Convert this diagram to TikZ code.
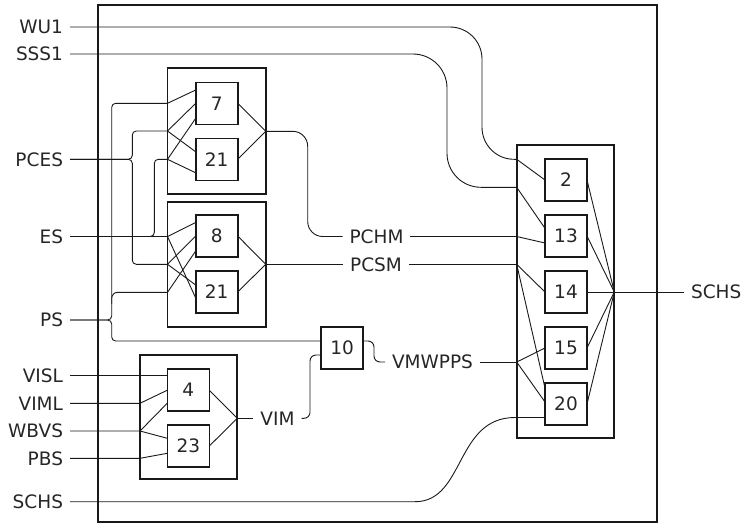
\documentclass[tikz,border=0pt]{standalone}
\usepackage{fontspec}
\setmainfont{DejaVu Sans}
\begin{document}
\begin{tikzpicture}[x=1pt,y=-1pt,
  lbl/.style={font=\fontsize{18.5}{22}\selectfont, text=black!85, inner xsep=7pt, inner ysep=2pt, outer sep=0pt},
  blk/.style={draw, line width=1.8pt, black!90},
  sbox/.style={draw=black!90, line width=1.6pt, minimum width=42pt, minimum height=42pt, inner sep=0pt, outer sep=0pt, text=black!85, font=\fontsize{18.5}{22}\selectfont},
  wire/.style={line width=0.9pt, black!90}
]
\useasboundingbox (0,0) rectangle (745,523);

% outer frame and blocks
\draw[blk] (97.7,5.3) rectangle (656.7,521.6);
\draw[blk] (167.5,68.3) rectangle (265.7,194);
\draw[blk] (167.5,201.7) rectangle (265.7,327.3);
\draw[blk] (516.7,145) rectangle (614.3,437.7);
\draw[blk] (140,355) rectangle (237.3,479.3);

% small boxes
\node[sbox] (b7)   at (216.7,103.3) {7};
\node[sbox] (b21a) at (216.7,159.3) {21};
\node[sbox] (b8)   at (216.7,236)   {8};
\node[sbox] (b21b) at (216.7,292)   {21};
\node[sbox] (b2)   at (566,180) {2};
\node[sbox] (b13)  at (566,236) {13};
\node[sbox] (b14)  at (566,292) {14};
\node[sbox] (b15)  at (566,348) {15};
\node[sbox] (b20)  at (566,404) {20};
\node[sbox] (b4)   at (188.3,390.2) {4};
\node[sbox] (b23)  at (188.3,446) {23};
\node[sbox] (b10)  at (342.2,348) {10};

% left labels
\node[lbl, anchor=east] (lWU1)  at (70,27)    {WU1};
\node[lbl, anchor=east] (lSSS1) at (70,54)    {SSS1};
\node[lbl, anchor=east] (lPCES) at (70,159.3) {PCES};
\node[lbl, anchor=east] (lES)   at (70,236.5) {ES};
\node[lbl, anchor=east] (lPS)   at (70,320)   {PS};
\node[lbl, anchor=east] (lVISL) at (70,375.7) {VISL};
\node[lbl, anchor=east] (lVIML) at (70,403.3) {VIML};
\node[lbl, anchor=east] (lWBVS) at (70,431)   {WBVS};
\node[lbl, anchor=east] (lPBS)  at (70,458.3) {PBS};
\node[lbl, anchor=east] (lSCHSl) at (70,501.7) {SCHS};
% inner labels
\node[lbl] (lPCHM) at (376.5,236.5) {PCHM};
\node[lbl] (lPCSM) at (376,264.3) {PCSM};
\node[lbl] (lVMW)  at (432.5,362) {VMWPPS};
\node[lbl] (lVIM)  at (277.5,418.3) {VIM};
\node[lbl, anchor=west] (lSCHSr) at (684,292) {SCHS};

% junctions
\coordinate (jA1) at (167.5,103.3);
\coordinate (jA2) at (167.5,131);
\coordinate (jA3) at (167.5,159.3);
\coordinate (jAo) at (265.7,131.3);
\coordinate (jB1) at (167.5,236.5);
\coordinate (jB2) at (167.5,264.3);
\coordinate (jB3) at (167.5,292.3);
\coordinate (jBo) at (265.7,264.3);
\coordinate (jC1) at (516.7,159.3);
\coordinate (jC2) at (516.7,187.3);
\coordinate (jC3) at (516.7,236.5);
\coordinate (jC4) at (516.7,264.3);
\coordinate (jC5) at (516.7,362);
\coordinate (jCo) at (614.3,292);
\coordinate (jD1) at (140,403.3);
\coordinate (jD2) at (140,431);
\coordinate (jD3) at (140,458.3);
\coordinate (jDo) at (237.3,418.3);

% block A wiring
\draw[wire] (jA1) -- ([yshift=13.3pt]b7.west);
\draw[wire] (jA2) -- (b7.west);
\draw[wire] (jA2) -- ([yshift=7.5pt]b21a.west);
\draw[wire] (jA3) -- ([yshift=-15pt]b7.west);
\draw[wire] (jA3) -- ([yshift=-13.5pt]b21a.west);
\draw[wire] (b7.east) -- (jAo);
\draw[wire] (b21a.east) -- (jAo);

% block B wiring
\draw[wire] (jB1) -- ([yshift=13.5pt]b8.west);
\draw[wire] (jB1) -- ([yshift=-6pt]b21b.west);
\draw[wire] (jB2) -- (b8.west);
\draw[wire] (jB2) -- ([yshift=7pt]b21b.west);
\draw[wire] (jB3) -- ([yshift=-15pt]b8.west);
\draw[wire] (b8.east) -- (jBo);
\draw[wire] (b21b.east) -- (jBo);

% block C wiring
\draw[wire] (jC1) -- (b2.west);
\draw[wire] (jC2) -- ([yshift=7.7pt]b13.west);
\draw[wire] (jC3) -- ([yshift=-7pt]b13.west);
\draw[wire] (jC4) -- (b14.west);
\draw[wire] (jC4) -- ([yshift=16pt]b20.west);
\draw[wire] (jC5) -- (b15.west);
\draw[wire] (jC5) -- ([yshift=2pt]b20.west);
\foreach \b in {b2,b13,b14,b15,b20} \draw[wire] (\b.east) -- (jCo);
\draw[wire] (jCo) -- (lSCHSr.west);

% block D wiring
\draw[wire] (lVISL.east) -- ([yshift=14.5pt]b4.west);
\draw[wire] (lVIML.east) -- (jD1) -- (b4.west);
\draw[wire] (lWBVS.east) -- (jD2) -- ([yshift=-13pt]b4.west);
\draw[wire] (jD2) -- ([yshift=7.7pt]b23.west);
\draw[wire] (lPBS.east) -- (jD3) -- ([yshift=-7.3pt]b23.west);
\draw[wire] (b4.east) -- (jDo);
\draw[wire] (b23.east) -- (jDo);
\draw[wire] (jDo) -- (lVIM.west);

% long wires
\draw[wire, rounded corners=32pt] (lWU1.east) -- (482,27) -- (482,159.3) -- (jC1);
\draw[wire, rounded corners=34pt] (lSSS1.east) -- (447,54) -- (447,187.3) -- (jC2);
\draw[wire, rounded corners=15pt] (jAo) -- (307.7,131.3) -- (307.7,236.5) -- (lPCHM.west);
\draw[wire] (lPCHM.east) -- (jC3);
\draw[wire] (jBo) -- (lPCSM.west);
\draw[wire] (lPCSM.east) -- (jC4);

% PS brace
\draw[wire, rounded corners=4pt] (lPS.east) -- (111.7,320) -- (111.7,103.3) -- (jA1);
\draw[wire, rounded corners=4pt] (lPS.east) -- (111.7,320) -- (111.7,341) -- ([yshift=7pt]b10.west);
\draw[wire, rounded corners=6pt] (111.7,304) -- (111.7,292.3) -- (jB3);
% PCES brace
\draw[wire, rounded corners=4pt] (lPCES.east) -- (132.3,159.3) -- (132.3,131) -- (jA2);
\draw[wire, rounded corners=4pt] (lPCES.east) -- (132.3,159.3) -- (132.3,264.3) -- (jB2);
% ES
\draw[wire] (lES.east) -- (jB1);
\draw[wire, rounded corners=4pt] (149,236.5) -- (154.3,236.5) -- (154.3,159.3) -- (jA3);

% VIM and VMWPPS
\draw[wire, rounded corners=6pt] (lVIM.east) -- (310,418.3) -- (310,355) -- ([yshift=-7pt]b10.west);
\draw[wire, rounded corners=6pt] ([yshift=7pt]b10.east) -- (374,341) -- (374,362) -- (lVMW.west);
\draw[wire] (lVMW.east) -- (jC5);

% SCHS left
\draw[wire] (lSCHSl.east) -- (415,501.7) .. controls (465,501.7) and (455,417.5) .. (515,417.5) -- ([yshift=-13.5pt]b20.west);
\end{tikzpicture}
\end{document}
